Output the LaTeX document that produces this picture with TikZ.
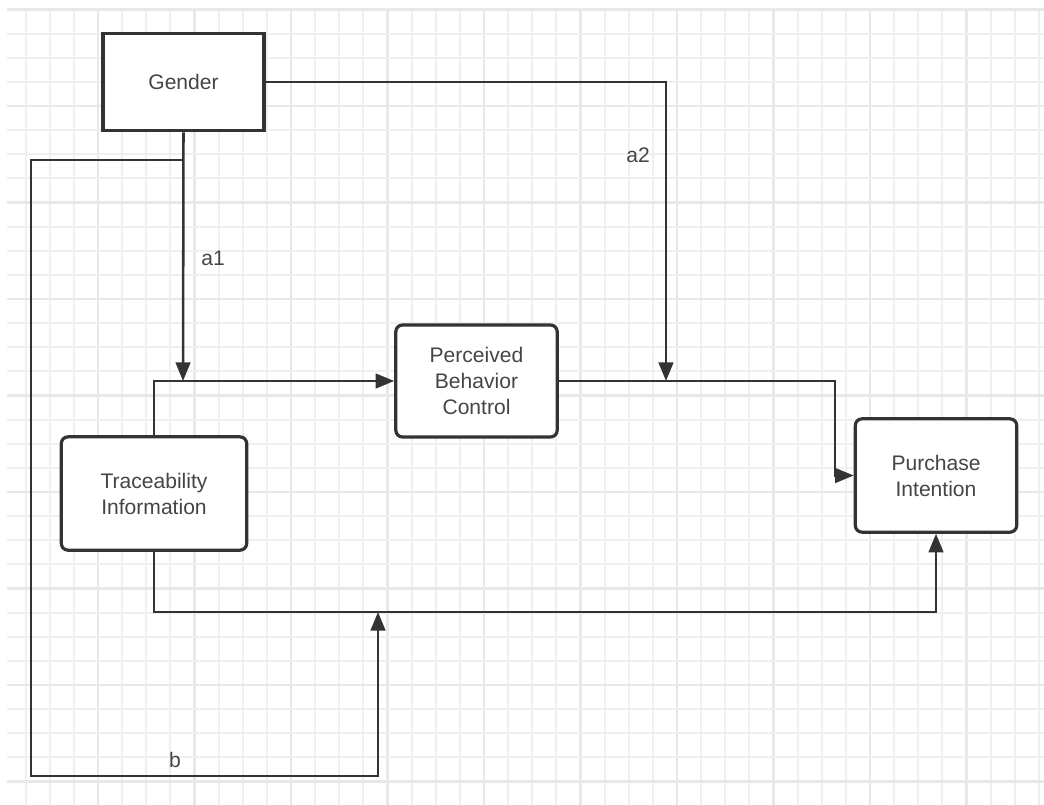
\documentclass[tikz,border=0pt]{standalone}
\usepackage{fontspec}
\setmainfont{Liberation Sans}
\usetikzlibrary{arrows.meta}
\definecolor{ink}{HTML}{333333}
\definecolor{txt}{HTML}{454545}
\definecolor{gridminor}{HTML}{EFEFEF}
\definecolor{gridmajor}{HTML}{E8E8E8}
\tikzset{
  box/.style={draw=ink, line width=2.6pt, fill=white, text=txt, align=center,
    font=\fontsize{15.8}{19.5}\selectfont, inner sep=0pt},
  roundbox/.style={box, rounded corners=5pt, line width=2.4pt},
  link/.style={draw=ink, line width=1.9pt},
  arrowlink/.style={link, -{Triangle[length=14pt,width=11pt]}},
  lbl/.style={text=txt, font=\fontsize{15.8}{19.5}\selectfont, inner sep=0pt},
}
\begin{document}
\begin{tikzpicture}[x=0.75pt,y=-0.75pt]
\useasboundingbox (0,0) rectangle (1044,805);
\fill[white] (0,0) rectangle (1044,805);
% background grid
\foreach \k in {-3,...,39} {
  \pgfmathsetmacro{\gx}{98+24.125*\k}
  \pgfmathtruncatemacro{\m}{mod(\k+40,4)}
  \ifnum\m=0
    \draw[gridmajor, line width=1.8pt] (\gx,10) -- (\gx,805);
  \else
    \draw[gridminor, line width=1.5pt] (\gx,10) -- (\gx,805);
  \fi
}
\foreach \k in {0,...,33} {
  \pgfmathsetmacro{\gy}{9.6+24.125*\k}
  \pgfmathtruncatemacro{\m}{mod(\k,4)}
  \ifnum\m=0
    \draw[gridmajor, line width=1.8pt] (7,\gy) -- (1044,\gy);
  \else
    \draw[gridminor, line width=1.5pt] (7,\gy) -- (1044,\gy);
  \fi
}

% blocks
\node[box, minimum width=121pt, minimum height=73pt] (gender) at (183.5,82) {Gender};
\node[roundbox, minimum width=139pt, minimum height=85pt] (ti) at (154,493.5) {Traceability\\Information};
\node[roundbox, minimum width=121pt, minimum height=84pt] (pbc) at (476.5,381) {Perceived\\Behavior\\Control};
\node[roundbox, minimum width=121pt, minimum height=85pt] (pi) at (936,475.5) {Purchase\\Intention};

% junctions and bends
\coordinate (j1) at (183,381);
\coordinate (j2) at (666,381);
\coordinate (j3) at (378,612);
\coordinate (e1) at (835,381);
\coordinate (g1) at (183,160);
\coordinate (bl) at (31,776);

% paths
\draw[arrowlink] (gender.south) -- (j1);
\draw[arrowlink] (ti.north) |- (pbc.west);
\draw[arrowlink] (pbc.east) -- (e1) |- (pi.west);
\draw[arrowlink] (gender.east) -| (j2);
\draw[arrowlink] (ti.south) |- (j3) -| (pi.south);
\draw[arrowlink] (g1) -| (bl) -| (j3);

% path labels
\node[lbl] (la1) at (213,258) {a1};
\node[lbl] (la2) at (638,155) {a2};
\node[lbl] (lb) at (175,760) {b};
\end{tikzpicture}
\end{document}
